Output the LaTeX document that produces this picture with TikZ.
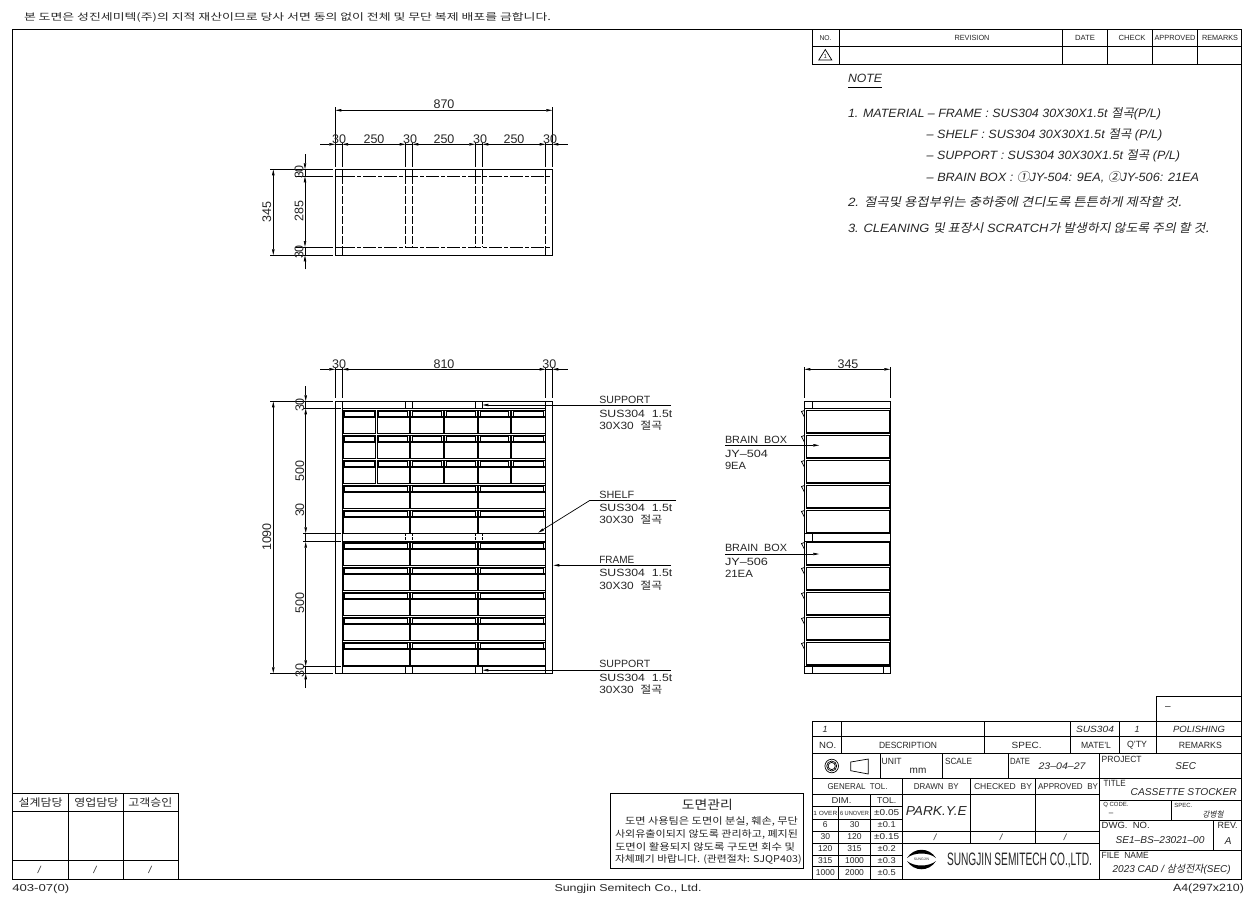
\documentclass[tikz,border=0pt]{standalone}
\usepackage{fontspec}
\usepackage{graphicx}
\setmainfont{Liberation Sans}
\newfontfamily\krf{Noto Sans CJK KR}
\newfontfamily\krif[FakeSlant=0.2]{Noto Sans CJK KR}
\usetikzlibrary{arrows.meta}
\newcommand\kr[1]{{\krf #1}}
\newcommand\kri[1]{{\krif #1}}
\newcounter{lab}
\newcommand\fitw[2]{\ifdim#1pt=0pt\relax #2\else\resizebox{#1pt}{\height}{#2}\fi}
\newcommand\Lb[6][west]{\stepcounter{lab}\node[lab,anchor=#1] (t\arabic{lab}) at (#2,#3) {\fitw{#5}{\fontsize{#4pt}{#4pt}\selectfont #6}};}
\newcommand\Li[6][west]{\Lb[#1]{#2}{#3}{#4}{#5}{\itshape #6}}
\newcommand\Dm[3]{\stepcounter{lab}\node[lab] (t\arabic{lab}) at (#1,#2) {\fontsize{12.5pt}{12.5pt}\selectfont #3};}
\newcommand\Dr[3]{\stepcounter{lab}\node[lab,rotate=90] (t\arabic{lab}) at (#1,#2) {\fontsize{12.5pt}{12.5pt}\selectfont #3};}
\newcommand\Cell[3]{%
  \draw[boxl] (#1,#3) rectangle (#2,{#3+23});
  \draw[boxl] ({#1+1.6},{#3+1.4}) rectangle ({#2-1.6},{#3+6.4});
  \draw[boxk] (#1,{#3+0.4}) -- (#2,{#3+0.4});
  \draw[boxk] (#1,{#3+6.6}) -- (#2,{#3+6.6});
}
\begin{document}
\begin{tikzpicture}[x=1pt,y=-1pt,
  lab/.style={inner sep=0pt,outer sep=0pt,text=black!85},
  ln/.style={line width=0.85pt,black},
  thn/.style={line width=0.7pt,black},
  dsh/.style={line width=0.85pt,black,dash pattern=on 13pt off 2pt on 4pt off 2pt},
  dsv/.style={line width=0.85pt,black,dash pattern=on 8pt off 2pt},
  boxl/.style={line width=1pt,black},
  boxk/.style={line width=1.8pt,black},
  dl/.style={line width=0.7pt,black},
  ah/.style={dl,-{Stealth[length=6pt,width=2.4pt,inset=0pt]}},
  ahh/.style={dl,{Stealth[length=6pt,width=2.4pt,inset=0pt]}-{Stealth[length=6pt,width=2.4pt,inset=0pt]}},
]
\fill[white] (0,0) rectangle (1259,906);
\useasboundingbox (0,0) rectangle (1259,906);

% sheet frame and header
\draw[ln] (12.3,29.3) rectangle (1241.7,879.3);
\Lb{24}{17.5}{9.5}{527}{\kr{본 도면은 성진세미텍(주)의 지적 재산이므로 당사 서면 동의 없이 전체 및 무단 복제 배포를 금합니다.}}
\Lb{12.3}{888.5}{10}{57}{403-07(0)}
\Lb[center]{628}{888.5}{10}{147}{Sungjin Semitech Co., Ltd.}
\Lb[east]{1244}{888.5}{10.5}{71}{A4(297x210)}

% revision table
\draw[ln] (812.3,29.3) -- (812.3,64.3) -- (1241.7,64.3);
\draw[ln] (812.3,46.7) -- (1241.7,46.7);
\foreach \x in {839,1062.3,1107.3,1152.3,1197.3} \draw[ln] (\x,29.3) -- (\x,64.3);
\Lb[center]{825.5}{38}{7}{12}{NO.}
\Lb[center]{972}{38}{7.5}{35}{REVISION}
\Lb[center]{1085}{38}{7.5}{20}{DATE}
\Lb[center]{1132}{38}{7.5}{27}{CHECK}
\Lb[center]{1175}{38}{7.5}{41}{APPROVED}
\Lb[center]{1220}{38}{7.5}{36}{REMARKS}
\draw[thn] (825.3,49.5) -- (818.8,60) -- (831.8,60) -- cycle;
\Lb[center]{825.3}{56.5}{6}{0}{1}

% notes
\Li{848}{78.5}{12}{34}{NOTE}
\draw[thn] (848,87.3) -- (882,87.3);
\Li{848}{114}{12}{313}{1. MATERIAL – FRAME : SUS304 30X30X1.5t \kri{절곡}(P/L)}
\Li{926.7}{135}{12}{235.6}{– SHELF : SUS304 30X30X1.5t \kri{절곡} (P/L)}
\Li{926.7}{156}{12}{253.3}{– SUPPORT : SUS304 30X30X1.5t \kri{절곡} (P/L)}
\Li{926.7}{177.2}{12}{272.3}{– BRAIN BOX : \kri{①}JY-504: 9EA, \kri{②}JY-506: 21EA}
\Li{848}{202}{12}{333.7}{2. \kri{절곡및 용접부위는 충하중에 견디도록 튼튼하게 제작할 것.}}
\Li{848}{227.5}{12}{361}{3. CLEANING \kri{및 표장시} SCRATCH\kri{가 발생하지 않도록 주의 할 것.}}

% ===== plan view =====
\draw[ln] (335.3,169.3) rectangle (552.3,255.3);
\draw[ln] (335.3,176.3) -- (342,176.3);
\draw[dsh] (342,176.3) -- (552.3,176.3);
\draw[ln] (335.3,247) -- (342,247);
\draw[dsh] (342,247) -- (552.3,247);
\foreach \x in {342,545.7} {
  \draw[ln] (\x,169.3) -- (\x,176.3);
  \draw[dsv] (\x,176.3) -- (\x,247);
  \draw[ln] (\x,247) -- (\x,255.3);
}
\foreach \x in {405.7,412.3,475.3,482.3} {
  \draw[ln] (\x,169.3) -- (\x,176.3);
  \draw[dsv] (\x,176.3) -- (\x,247);
}
% dimensions plan
\draw[dl] (335.3,107) -- (335.3,167);
\draw[dl] (552.3,107) -- (552.3,167);
\foreach \x in {342,405.7,412.3,475.3,482.3,545.7} \draw[dl] (\x,143) -- (\x,167);
\draw[ahh] (335.3,110.3) -- (552.3,110.3);
\Dm{444}{104.5}{870}
\draw[ah] (320,144.3) -- (335.3,144.3);
\draw[dl] (335.3,144.3) -- (342,144.3);
\draw[ahh] (342,144.3) -- (405.7,144.3);
\draw[dl] (405.7,144.3) -- (412.3,144.3);
\draw[ahh] (412.3,144.3) -- (475.3,144.3);
\draw[dl] (475.3,144.3) -- (482.3,144.3);
\draw[ahh] (482.3,144.3) -- (545.7,144.3);
\draw[dl] (545.7,144.3) -- (552.3,144.3);
\draw[ah] (567.7,144.3) -- (552.3,144.3);
\Dm{339}{139}{30}\Dm{374}{139}{250}\Dm{410}{139}{30}\Dm{444}{139}{250}\Dm{480}{139}{30}\Dm{514}{139}{250}\Dm{550}{139}{30}
\draw[dl] (270,169.3) -- (333,169.3);
\draw[dl] (270,255.3) -- (333,255.3);
\draw[dl] (295,176.3) -- (333,176.3);
\draw[dl] (295,247) -- (333,247);
\draw[ahh] (273.3,169.3) -- (273.3,255.3);
\Dr{266.7}{211.7}{345}
\draw[ah] (305,154) -- (305,169.3);
\draw[dl] (305,169.3) -- (305,176.3);
\draw[ahh] (305,176.3) -- (305,247);
\draw[dl] (305,247) -- (305,255.3);
\draw[ah] (305,269.3) -- (305,255.3);
\Dr{299}{172}{30}\Dr{299}{211}{285}\Dr{299}{252}{30}

% ===== front view =====
\draw[ln] (335.3,401.3) rectangle (552.3,673.3);
\draw[ln] (342.3,401.3) -- (342.3,673.3);
\draw[ln] (545.7,401.3) -- (545.7,673.3);
\draw[ln] (342.3,408.3) -- (545.7,408.3);
\draw[ln] (342.3,533.3) -- (545.7,533.3);
\draw[ln] (342.3,541.7) -- (545.7,541.7);
\draw[ln] (342.3,666.3) -- (545.7,666.3);
\foreach \x in {405.3,412.3,475.3,482.3} {
  \draw[ln] (\x,401.3) -- (\x,408.3);
  \draw[ln] (\x,666.3) -- (\x,673.3);
  \draw[line width=0.85pt,dash pattern=on 2.5pt off 1.5pt] (\x,533.3) -- (\x,541.7);
}
\foreach \y in {410,435,460} {
  \Cell{343.3}{375.7}{\y}\Cell{377}{409}{\y}
  \Cell{410.7}{443.5}{\y}\Cell{444.5}{477.3}{\y}
  \Cell{478.7}{510.5}{\y}\Cell{511.5}{545}{\y}
}
\foreach \y in {485,510,542,567,592,617,642} {
  \Cell{343.3}{409}{\y}\Cell{410.7}{477.3}{\y}\Cell{478.7}{545}{\y}
}
% dimensions front
\foreach \x in {335.3,342.3,545.7,552.3} \draw[dl] (\x,368) -- (\x,398);
\draw[ah] (320,369.3) -- (335.3,369.3);
\draw[dl] (335.3,369.3) -- (342.3,369.3);
\draw[ahh] (342.3,369.3) -- (545.7,369.3);
\draw[dl] (545.7,369.3) -- (552.3,369.3);
\draw[ah] (567.7,369.3) -- (552.3,369.3);
\Dm{339}{364}{30}\Dm{444}{364}{810}\Dm{549.3}{364}{30}
\draw[dl] (270,401.3) -- (333,401.3);
\draw[dl] (270,673.3) -- (333,673.3);
\draw[ahh] (273.3,401.3) -- (273.3,673.3);
\Dr{266.7}{537}{1090}
\foreach \y in {408.3,533.3,541.7,666.3} \draw[dl] (303,\y) -- (341,\y);
\draw[ah] (305.7,386) -- (305.7,401.3);
\draw[dl] (305.7,401.3) -- (305.7,408.3);
\draw[ahh] (305.7,408.3) -- (305.7,533.3);
\draw[dl] (305.7,533.3) -- (305.7,541.7);
\draw[ahh] (305.7,541.7) -- (305.7,666.3);
\draw[dl] (305.7,666.3) -- (305.7,673.3);
\draw[ah] (305.7,688) -- (305.7,673.3);
\Dr{299.7}{405}{30}\Dr{299.7}{470.7}{500}\Dr{299.7}{510}{30}\Dr{299.7}{603}{500}\Dr{299.7}{670.7}{30}

% leaders and callouts
\draw[ah] (671,405) -- (482.3,405);
\Lb{599.3}{399.5}{10.5}{51}{SUPPORT}
\Lb{599.3}{413.7}{10.5}{73}{SUS304 \ 1.5t}
\Lb{599.3}{425.7}{10.5}{63}{30X30 \ \kr{절곡}}
\draw[dl] (676,500.3) -- (590,500.3);
\draw[ah] (590,500.3) -- (538,532.7);
\Lb{599.3}{494.5}{10.5}{35}{SHELF}
\Lb{599.3}{508}{10.5}{73}{SUS304 \ 1.5t}
\Lb{599.3}{520}{10.5}{63}{30X30 \ \kr{절곡}}
\draw[ah] (671,565.3) -- (553.3,565.3);
\Lb{599.3}{559.5}{10.5}{35}{FRAME}
\Lb{599.3}{573.3}{10.5}{73}{SUS304 \ 1.5t}
\Lb{599.3}{585.3}{10.5}{63}{30X30 \ \kr{절곡}}
\draw[ah] (671,670.2) -- (482.3,670.2);
\Lb{599.3}{663.5}{10.5}{51}{SUPPORT}
\Lb{599.3}{677.7}{10.5}{73}{SUS304 \ 1.5t}
\Lb{599.3}{689.7}{10.5}{63}{30X30 \ \kr{절곡}}

% ===== side view =====
\draw[ln] (804.3,401.7) rectangle (890.3,673.3);
\draw[ln] (804.3,408.3) -- (890.3,408.3);
\draw[ln] (812.3,401.7) -- (812.3,408.3);
\draw[ln] (804.3,533.3) -- (890.3,533.3);
\draw[ln] (804.3,541) -- (890.3,541);
\draw[ln] (812.3,533.3) -- (812.3,541);
\draw[ln] (804.3,666.3) -- (890.3,666.3);
\draw[ln] (812.3,666.3) -- (812.3,673.3);
\draw[ln] (883.3,666.3) -- (883.3,673.3);
\foreach \y in {410,435,460,485,510,542,567,592,617,642} {
  \draw[boxl] (806,\y) rectangle (889.7,{\y+23});
  \draw[boxk] (806,{\y+23}) -- (889.7,{\y+23});
  \draw[thn] (804.3,{\y+0.5}) -- (801.5,{\y+1.5}) -- (804.3,{\y+7});
}
\draw[ahh] (804.3,369.3) -- (890.3,369.3);
\draw[dl] (804.3,367) -- (804.3,398);
\draw[dl] (890.3,367) -- (890.3,398);
\Dm{848}{364}{345}
\draw[ah] (725,445.3) -- (819.3,445.3);
\Lb{725}{439.7}{10.5}{62}{BRAIN \ BOX}
\Lb{725}{454.3}{10.5}{43}{JY–504}
\Lb{725}{465.7}{10.5}{21}{9EA}
\draw[ah] (725,554) -- (819.3,554);
\Lb{725}{547.7}{10.5}{62}{BRAIN \ BOX}
\Lb{725}{561.7}{10.5}{43}{JY–506}
\Lb{725}{573.7}{10.5}{28}{21EA}

% ===== title block =====
\draw[ln] (1156.3,696.7) rectangle (1241.7,721.7);
\Lb[center]{1168}{708}{10}{0}{–}
\draw[ln] (812.3,721.7) rectangle (1241.7,879.3);
\draw[ln] (812.3,736.3) -- (1241.7,736.3);
\draw[ln] (812.3,753.3) -- (1241.7,753.3);
\draw[ln] (812.3,778.3) -- (1241.7,778.3);
\foreach \x in {841.7,984.3,1070.7,1119,1156.3} \draw[ln] (\x,721.7) -- (\x,753.3);
\Li[center]{825}{729.3}{9}{0}{1}
\Li[center]{1095}{729.3}{9}{38}{SUS304}
\Li[center]{1137}{729.3}{9}{0}{1}
\Li[center]{1199}{729.3}{9}{52}{POLISHING}
\Lb[center]{827.7}{745}{9}{17}{NO.}
\Lb[center]{908}{745}{9}{58}{DESCRIPTION}
\Lb[center]{1026.7}{745}{9}{30}{SPEC.}
\Lb[center]{1096}{745}{9}{30}{MATE'L}
\Lb[center]{1137}{745}{9}{20}{Q'TY}
\Lb[center]{1200.3}{745}{9}{43}{REMARKS}
% row 3
\foreach \x in {880,942.7,1008.3,1099.7} \draw[ln] (\x,753.3) -- (\x,778.3);
\draw[thn] (831.7,766) circle (6.8pt);
\draw[thn] (831.7,766) circle (3.6pt);
\draw[thn] (831.7,766) circle (5pt);
\draw[thn] (850.7,762) -- (868.3,759) -- (868.3,774) -- (850.7,770.7) -- cycle;
\Lb{881.7}{761}{9}{20}{UNIT}
\Lb[center]{918}{770.7}{10}{0}{mm}
\Lb{945}{761}{9}{27}{SCALE}
\Lb{1010}{761}{9}{20}{DATE}
\Li[center]{1062}{766.3}{9.5}{47}{23–04–27}
\Lb{1101.7}{759.3}{9}{40}{PROJECT}
\Li[center]{1185.7}{766.3}{10}{0}{SEC}
% general tol
\draw[ln] (902.7,778.3) -- (902.7,879.3);
\draw[ln] (812.3,794) -- (902.7,794);
\foreach \y in {806.7,819,831,843.3,855,866.7} \draw[ln] (812.3,\y) -- (902.7,\y);
\draw[ln] (870.7,794) -- (870.7,879.3);
\draw[ln] (838.3,806.7) -- (838.3,879.3);
\Lb[center]{857.5}{786.5}{8.5}{60}{GENERAL \ TOL.}
\Lb[center]{841.5}{800.5}{8.5}{20}{DIM.}
\Lb[center]{886.7}{800.5}{8.5}{19}{TOL.}
\Lb[center]{825.3}{813}{6}{24}{1 OVER}
\Lb[center]{854.5}{813}{6}{29}{6 UNOVER}
\Lb[center]{886.7}{813}{8.5}{25}{±0.05}
\Lb[center]{825.3}{825}{8.5}{0}{6}\Lb[center]{854.5}{825}{8.5}{0}{30}\Lb[center]{886.7}{825}{8.5}{18}{±0.1}
\Lb[center]{825.3}{837}{8.5}{0}{30}\Lb[center]{854.5}{837}{8.5}{0}{120}\Lb[center]{886.7}{837}{8.5}{25}{±0.15}
\Lb[center]{825.3}{849}{8.5}{0}{120}\Lb[center]{854.5}{849}{8.5}{0}{315}\Lb[center]{886.7}{849}{8.5}{18}{±0.2}
\Lb[center]{825.3}{861}{8.5}{0}{315}\Lb[center]{854.5}{861}{8.5}{0}{1000}\Lb[center]{886.7}{861}{8.5}{18}{±0.3}
\Lb[center]{825.3}{873}{8.5}{0}{1000}\Lb[center]{854.5}{873}{8.5}{0}{2000}\Lb[center]{886.7}{873}{8.5}{18}{±0.5}
% drawn / checked / approved
\foreach \x in {970,1035.7} \draw[ln] (\x,778.3) -- (\x,843.3);
\draw[ln] (902.7,794) -- (1099.7,794);
\draw[ln] (902.7,831) -- (1099.7,831);
\draw[ln] (902.7,843.3) -- (1099.7,843.3);
\draw[ln] (1099.7,778.3) -- (1099.7,879.3);
\Lb[center]{936.3}{786.5}{8.5}{45}{DRAWN \ BY}
\Lb[center]{1003}{786.5}{8.5}{58}{CHECKED \ BY}
\Lb[center]{1068}{786.5}{8.5}{60}{APPROVED \ BY}
\Li[center]{936.3}{811.5}{13}{61}{PARK.Y.E}
\Li[center]{935}{837}{9}{0}{/}\Li[center]{1001}{837}{9}{0}{/}\Li[center]{1065}{837}{9}{0}{/}
% logo
\fill[black] (907,858) .. controls (914,847) and (929,847) .. (936,858) .. controls (929,852) and (914,852) .. cycle;
\fill[black] (907,861) .. controls (914,872) and (929,872) .. (936,861) .. controls (929,867) and (914,867) .. cycle;
\Lb[center]{921.5}{859.6}{3.5}{0}{SUNGJIN}
\Lb{947}{860.7}{18}{145}{SUNGJIN SEMITECH CO.,LTD.}
% right block
\draw[ln] (1099.7,800.3) -- (1241.7,800.3);
\draw[ln] (1099.7,820.7) -- (1241.7,820.7);
\draw[ln] (1099.7,850.3) -- (1241.7,850.3);
\draw[ln] (1171,800.3) -- (1171,820.7);
\draw[ln] (1213.7,820.7) -- (1213.7,850.3);
\Lb{1103.7}{783.3}{9}{22}{TITLE}
\Li[center]{1183.7}{791.7}{10}{106}{CASSETTE STOCKER}
\Lb{1103.3}{805}{6}{0}{Q CODE.}
\Lb[center]{1111}{814}{8}{0}{–}
\Lb{1174.3}{805}{6}{0}{SPEC.}
\Li[center]{1213}{814.3}{8}{21}{\kri{강병철}}
\Lb{1101.7}{825.7}{9}{48}{DWG. \ NO.}
\Lb[center]{1227.7}{825.7}{9}{20}{REV.}
\Li[center]{1160}{839.7}{10}{89}{SE1–BS–23021–00}
\Li[center]{1228.3}{840.7}{10}{0}{A}
\Lb{1101.7}{855.7}{9}{47}{FILE \ NAME}
\Li[center]{1171.7}{869.7}{10}{118}{2023 CAD / \kri{삼성전자}(SEC)}

% approval table
\draw[ln] (12.3,793.7) rectangle (178.7,879.3);
\draw[ln] (12.3,811) -- (178.7,811);
\draw[ln] (12.3,860.7) -- (178.7,860.7);
\foreach \x in {68.3,123.3} \draw[ln] (\x,793.7) -- (\x,879.3);
\Lb[center]{40.7}{802.7}{10.5}{44}{\kr{설계담당}}
\Lb[center]{96.3}{802.7}{10.5}{44}{\kr{영업담당}}
\Lb[center]{150.3}{802.7}{10.5}{44}{\kr{고객승인}}
\Li[center]{39.3}{870}{10}{0}{/}\Li[center]{95}{870}{10}{0}{/}\Li[center]{150}{870}{10}{0}{/}

% management box
\draw[ln] (610.7,793.3) rectangle (803.3,868.3);
\Lb[center]{707.3}{805}{12.5}{51}{\kr{도면관리}}
\Lb{625}{821.7}{9.5}{173}{\kr{도면 사용팀은 도면이 분실, 훼손, 무단}}
\Lb{615}{834.3}{9.5}{183}{\kr{사외유출이되지 않도록 관리하고, 폐지된}}
\Lb{615}{847.3}{9.5}{180}{\kr{도면이 활용되지 않도록 구도면 회수 및}}
\Lb{615}{859.7}{9.5}{186.7}{\kr{자체폐기 바랍니다. (관련절차: SJQP403)}}
\end{tikzpicture}
\end{document}
